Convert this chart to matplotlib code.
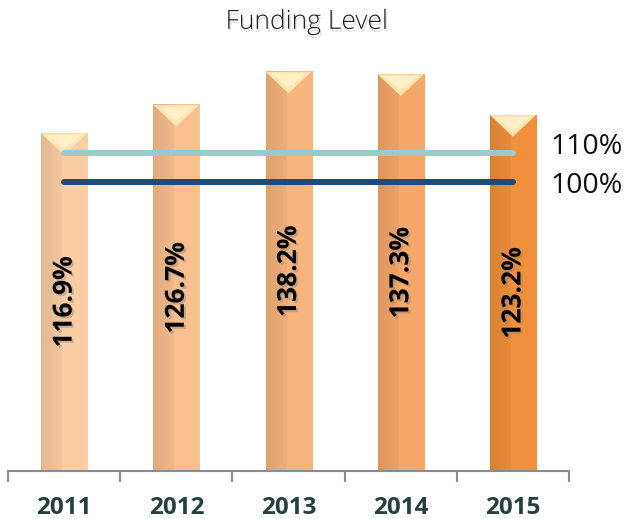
import numpy as np
import matplotlib
matplotlib.use("Agg")
import matplotlib.pyplot as plt
import matplotlib.colors as mcolors
import matplotlib.patheffects as pe
from matplotlib.patches import Polygon

years = ["2011", "2012", "2013", "2014", "2015"]
funding = [116.9, 126.7, 138.2, 137.3, 123.2]
labels = ["116.9%", "126.7%", "138.2%", "137.3%", "123.2%"]
bar_colors = ["#FBCDA3", "#F9BF8E", "#F7B47C", "#F5A869", "#F0903A"]

ref_levels = [110, 100]
ref_labels = ["110%", "100%"]
ref_colors = ["#9DC9CB", "#1F4A7C"]

plt.rcParams['font.family'] = ['Open Sans', 'DejaVu Sans']

def shade_bar(ax, rect, col):
    x0, y0 = rect.get_x(), rect.get_y()
    w, h = rect.get_width(), rect.get_height()
    rgb = np.array(mcolors.to_rgb(col))
    t = np.linspace(0, 1, 80)
    shade = np.where(t < 0.45, 0.90 + 0.07 * t / 0.45, 1.0 + 0.01 * (t - 0.45))
    img = np.clip(rgb[None, :] * shade[:, None], 0, 1)[None, :, :]
    ax.imshow(img, extent=(x0, x0 + w, y0, y0 + h), aspect='auto', zorder=2)
    # bevelled top
    top = y0 + h
    d = 7.5
    tri = Polygon([(x0, top), (x0 + w, top), (x0 + w / 2, top - d)],
                  closed=True, facecolor="#FFE6B0", edgecolor='none', zorder=3)
    ax.add_patch(tri)
    tri2 = Polygon([(x0 + w * 0.12, top - 0.6), (x0 + w * 0.88, top - 0.6), (x0 + w / 2, top - d * 0.7)],
                   closed=True, facecolor="#FFF0C8", edgecolor='none', zorder=3)
    ax.add_patch(tri2)


def main():
    fig = plt.figure(figsize=(6.26, 5.19), dpi=100)
    ax = fig.add_axes([0.0128, 0.0925, 0.8962, 0.835])

    x = np.arange(len(years))
    bars = ax.bar(x, funding, width=0.41, color=bar_colors, edgecolor="#D8CCC0",
                  linewidth=0.8, zorder=1)
    for rect, col in zip(bars, bar_colors):
        shade_bar(ax, rect, col)

    for rect, lab in zip(bars, labels):
        cx = rect.get_x() + rect.get_width() / 2
        ax.text(cx, rect.get_height() / 2, lab, rotation=90, ha='center', va='center',
                fontsize=19, fontweight='bold', color='black', zorder=6,
                path_effects=[pe.withSimplePatchShadow(offset=(1.5, -1.5), shadow_rgbFace='gray', alpha=0.4)])

    offsets = [2.1, -1.4]
    for lvl, lab, col, off in zip(ref_levels, ref_labels, ref_colors, offsets):
        ax.plot([x[0], x[-1]], [lvl, lvl], color=col, lw=4.3, solid_capstyle='round', zorder=5)
        ax.text(x[-1] + 0.33, lvl + off, lab, ha='left', va='center', fontsize=20.5,
                color='#111111', clip_on=False)

    ax.set_xlim(-0.5, len(years) - 0.5)
    ax.set_ylim(0, 150)
    ax.set_xticks(x)
    ax.set_xticklabels(years, fontsize=17.5, fontweight='bold', color='#253F40')
    ax.set_xticks(np.arange(-0.5, len(years)), minor=True)
    ax.tick_params(axis='x', which='major', length=0, pad=18)
    ax.tick_params(axis='x', which='minor', length=8, width=1.5, color='#8C8C8C', direction='out')
    ax.set_yticks([])
    for s in ['left', 'right', 'top']:
        ax.spines[s].set_visible(False)
    ax.spines['bottom'].set_color('#8C8C8C')
    ax.spines['bottom'].set_linewidth(1.5)

    fig.text(0.49, 0.957, "Funding Level", ha='center', va='center', fontsize=19,
             fontweight='light', color='#222222',
             path_effects=[pe.withSimplePatchShadow(offset=(1, -2), shadow_rgbFace='gray', alpha=0.25)])

    fig.savefig("out.png", dpi=100)


if __name__ == "__main__":
    main()
